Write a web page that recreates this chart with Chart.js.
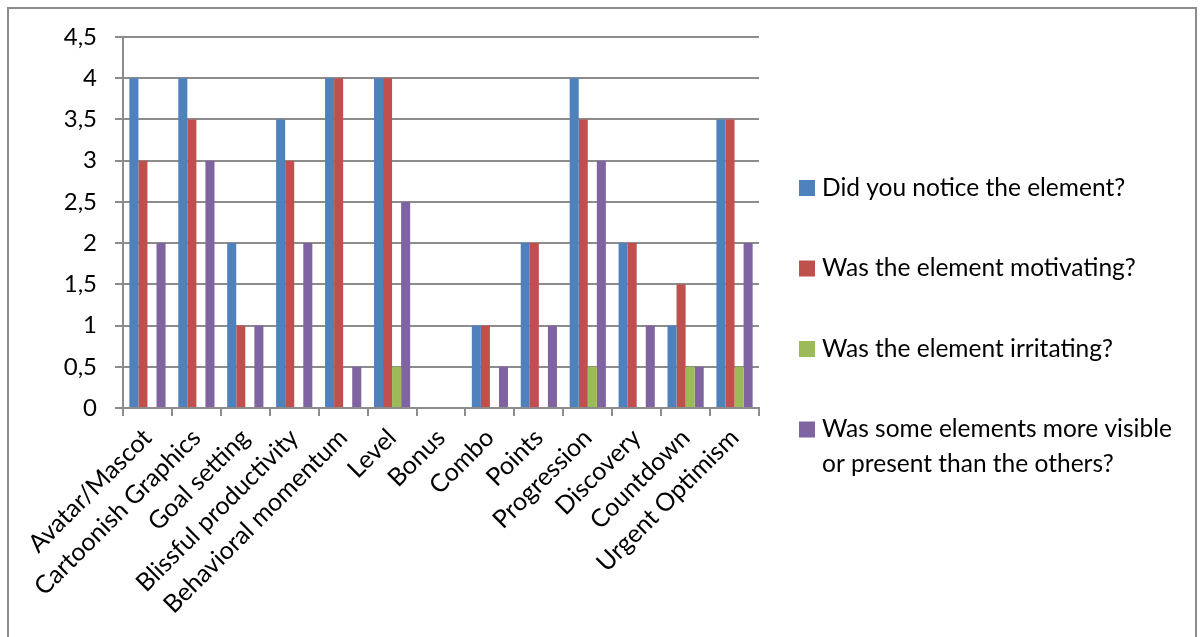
<!DOCTYPE html>
<html>
<head>
<meta charset="utf-8">
<script src="https://cdn.jsdelivr.net/npm/chart.js@4/dist/chart.umd.min.js"></script>
<style>
  html, body { margin: 0; padding: 0; background: #fff; }
  #frame { position: absolute; left: 7px; top: 7px; width: 1186px; height: 660px; border: 2px solid #8c8c8c; }
  #wrap { position: absolute; left: 0; top: 0; width: 1203px; height: 637px; }
</style>
</head>
<body>
<div id="frame"></div>
<div id="wrap"><canvas id="myChart" width="1203" height="637"></canvas></div>
<script>
    const categories = ["Avatar/Mascot", "Cartoonish Graphics", "Goal setting", "Blissful productivity",
        "Behavioral momentum", "Level", "Bonus", "Combo", "Points", "Progression", "Discovery",
        "Countdown", "Urgent Optimism"];
    const seriesNames = ["Did you notice the element?", "Was the element motivating?",
        "Was the element irritating?", "Was some elements more visible or present than the others?"];
    const noticed    = [4, 4, 2, 3.5, 4, 4, 0, 1, 2, 4, 2, 1, 3.5];
    const motivating = [3, 3.5, 1, 3, 4, 4, 0, 1, 2, 3.5, 2, 1.5, 3.5];
    const irritating = [0, 0, 0, 0, 0, 0.5, 0, 0, 0, 0.5, 0, 0.5, 0.5];
    const visible    = [2, 3, 1, 2, 0.5, 2.5, 0, 0.5, 1, 3, 1, 0.5, 2];
    const yTicks = [0, 0.5, 1, 1.5, 2, 2.5, 3, 3.5, 4, 4.5];

    const colors = ['#4f81bd', '#c0504d', '#9bbb59', '#8064a2'];
    const font = 'Lato';

    // legend drawn on the right, wrapping long labels like the office chart does
    const sideLegend = {
        id: 'sideLegend',
        afterDraw(chart) {
            const ctx = chart.ctx;
            ctx.save();
            ctx.font = '24.5px ' + font;
            ctx.textBaseline = 'middle';
            const x = 799, maxW = 362;
            let y = 188;
            chart.data.datasets.forEach(function(ds){
                ctx.fillStyle = ds.backgroundColor;
                ctx.fillRect(x, y - 8, 16, 16);
                ctx.fillStyle = '#000';
                let words = ds.label.split(' '), line = '', lines = [];
                words.forEach(function(w){
                    let t = line ? line + ' ' + w : w;
                    if (ctx.measureText(t).width > maxW && line) { lines.push(line); line = w; }
                    else line = t;
                });
                lines.push(line);
                lines.forEach(function(l, i){ ctx.fillText(l, x + 23, y + i * 35); });
                y += 80.5;
            });
            ctx.restore();
        }
    };

    const ctx = document.getElementById('myChart');
    new Chart(ctx, {
        type: 'bar',
        data: {
            labels: categories,
            datasets: [noticed, motivating, irritating, visible].map(function(d, i){
                return {
                    label: seriesNames[i],
                    data: d,
                    backgroundColor: colors[i],
                    borderWidth: 0,
                    barPercentage: 1,
                    categoryPercentage: 0.74
                };
            })
        },
        options: {
            responsive: false,
            animation: false,
            layout: { padding: { top: 37, right: 444, left: 0, bottom: 0 } },
            plugins: { legend: { display: false }, tooltip: { enabled: false } },
            scales: {
                x: {
                    afterFit: function(s){ s.height = 229; },
                    grid: { drawOnChartArea: false, color: '#8c8c8c', lineWidth: 2, tickLength: 8 },
                    border: { color: '#8c8c8c', width: 2 },
                    ticks: { color: '#000', font: { family: font, size: 25 }, minRotation: 45, maxRotation: 45, autoSkip: false, padding: 7 }
                },
                y: {
                    min: 0, max: 4.5,
                    afterFit: function(s){ s.width = 123; },
                    afterBuildTicks: function(s){ s.ticks = yTicks.map(function(v){ return { value: v }; }); },
                    grid: { color: '#8c8c8c', lineWidth: 2, tickLength: 8 },
                    border: { color: '#8c8c8c', width: 2 },
                    ticks: {
                        color: '#000', font: { family: font, size: 24 }, padding: 18,
                        callback: function(v){ return String(v).replace('.', ','); }
                    }
                }
            }
        },
        plugins: [sideLegend]
    });
</script>
</body>
</html>
